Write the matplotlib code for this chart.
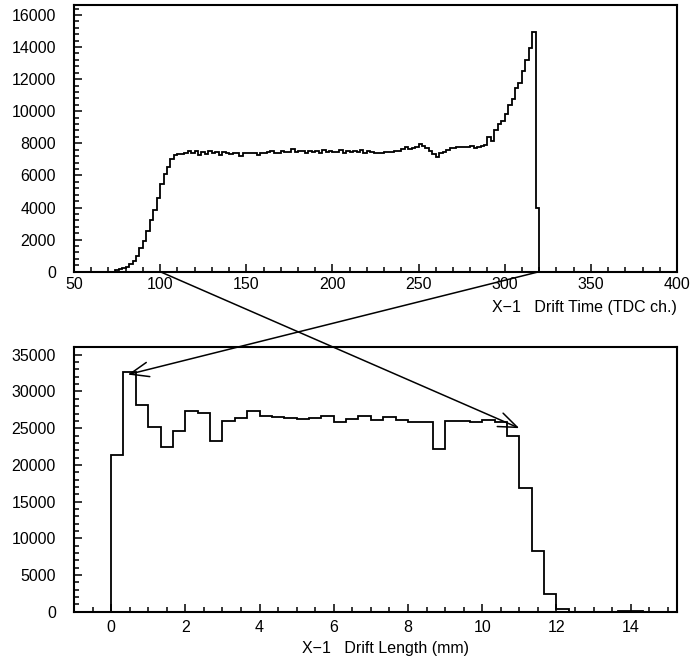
import numpy as np
import matplotlib
matplotlib.use("Agg")
import matplotlib.pyplot as plt
from matplotlib.patches import ConnectionPatch

plt.rcParams['font.family'] = ['Liberation Sans', 'DejaVu Sans']

# ---------------- data: drift time (TDC ch.), bins of 2 channels from 50 ----------------
time_start, time_width = 50, 2
time_zero_low = [0] * 12                                   # 50 .. 72
time_rise = [100, 150, 200, 300, 450, 650, 1000, 1450, 1900, 2550,
             3200, 3850, 4600, 5450, 6100, 6500, 7000, 7250, 7330]   # 74 .. 110
time_plateau = [7350, 7420, 7500, 7380, 7550, 7300, 7480, 7350, 7520, 7400,
                7480, 7300, 7450, 7380, 7350, 7420, 7400, 7230, 7380, 7380,
                7380, 7380, 7300, 7420, 7420, 7450, 7540, 7420, 7420, 7540,
                7450, 7480, 7630, 7480, 7540, 7540, 7400, 7540, 7450, 7540,
                7400, 7580, 7480, 7500, 7450, 7450, 7600, 7380, 7540, 7480,
                7500, 7450, 7560, 7420, 7500]                       # 112 .. 220
time_late = [7480, 7380, 7380, 7380, 7480, 7480, 7480, 7540, 7540, 7630,
             7790, 7630, 7730, 7800, 7960, 7840, 7690, 7540, 7340, 7130,
             7380, 7450, 7590, 7690, 7690, 7790, 7790, 7740, 7790]  # 222 .. 278
time_peak = [7850, 7690, 7760, 7810, 7900, 8380, 8170, 8860, 9200, 9400,
             9810, 10390, 10770, 11430, 11740, 12530, 13200, 13930, 14950, 3950]  # 280 .. 318
time_zero_high = [0] * 40                                  # 320 .. 398

# ---------------- data: drift length (mm), bins of 1/3 mm from -1 ----------------
len_start, len_width = -1.0, 1.0 / 3.0
length_counts = [0, 0, 0,
                 21400, 32600, 28200, 25100, 22400, 24600, 27400, 27100, 23200, 26000,
                 26400, 27300, 26700, 26500, 26400, 26300, 26400, 26600, 25900, 26200,
                 26600, 26100, 26500, 26100, 25900, 25800, 22100, 26000, 26000, 25900,
                 26100, 25900, 24000, 16800, 8280, 2410, 330,
                 0, 0, 0, 0, 50, 50, 0, 0]

# arrow mapping: drift time -> drift length
arrow_time = [100, 320]
arrow_len = [(11.0, 25000), (0.45, 32300)]

time_counts = np.array(time_zero_low + time_rise + time_plateau + time_late
                       + time_peak + time_zero_high, dtype=float)
time_edges = time_start + time_width * np.arange(len(time_counts) + 1)
length_counts = np.array(length_counts, dtype=float)
len_edges = len_start + len_width * np.arange(len(length_counts) + 1)

W, H = 691, 662
fig = plt.figure(figsize=(W / 100, H / 100), dpi=100)

def frac(l, t, r, b):
    return [l / W, 1 - b / H, (r - l) / W, (b - t) / H]

ax1 = fig.add_axes(frac(74, 5, 677, 271.7))
ax2 = fig.add_axes(frac(74, 346.7, 677, 611.7))

for ax in (ax1, ax2):
    for s in ax.spines.values():
        s.set_linewidth(1.5)
    ax.tick_params(which='both', direction='in', top=False, right=False,
                   width=1.1, labelsize=11.5)
    ax.tick_params(which='major', length=6)
    ax.tick_params(which='minor', length=3.5)

ax1.stairs(time_counts, time_edges, color='black', linewidth=1.3, baseline=0)
ax1.set_xlim(50, 400)
ax1.set_ylim(0, 16620)
ax1.set_xticks(np.arange(50, 401, 50))
ax1.set_xticks(np.arange(50, 401, 10), minor=True)
ax1.set_yticks(np.arange(0, 16001, 2000))
ax1.set_yticks(np.arange(0, 16601, 400), minor=True)
ax1.tick_params(axis='y', pad=13)
ax1.tick_params(axis='x', pad=4)

ax2.stairs(length_counts, len_edges, color='black', linewidth=1.3, baseline=0)
ax2.set_xlim(-1, 15.25)
ax2.set_ylim(0, 36100)
ax2.set_xticks(np.arange(0, 15, 2))
ax2.set_xticks(np.arange(-1, 15.3, 0.5), minor=True)
ax2.set_yticks(np.arange(0, 35001, 5000))
ax2.set_yticks(np.arange(0, 36001, 1000), minor=True)
ax2.tick_params(axis='y', pad=13)
ax2.tick_params(axis='x', pad=6)

fig.text(677 / W, 1 - 307 / H, "X\u22121   Drift Time (TDC ch.)", ha='right', va='center',
         fontsize=11.5)
fig.text(385 / W, 1 - 649 / H, "X\u22121   Drift Length (mm)", ha='center', va='center',
         fontsize=11.5)

for t, (lx, ly) in zip(arrow_time, arrow_len):
    con = ConnectionPatch(xyA=(t, 0), coordsA=ax1.transData,
                          xyB=(lx, ly), coordsB=ax2.transData,
                          arrowstyle='->,head_length=0.9,head_width=0.35',
                          mutation_scale=15, color='black', linewidth=1.1,
                          shrinkA=0, shrinkB=0)
    fig.add_artist(con)

fig.savefig("out.png", dpi=100)
